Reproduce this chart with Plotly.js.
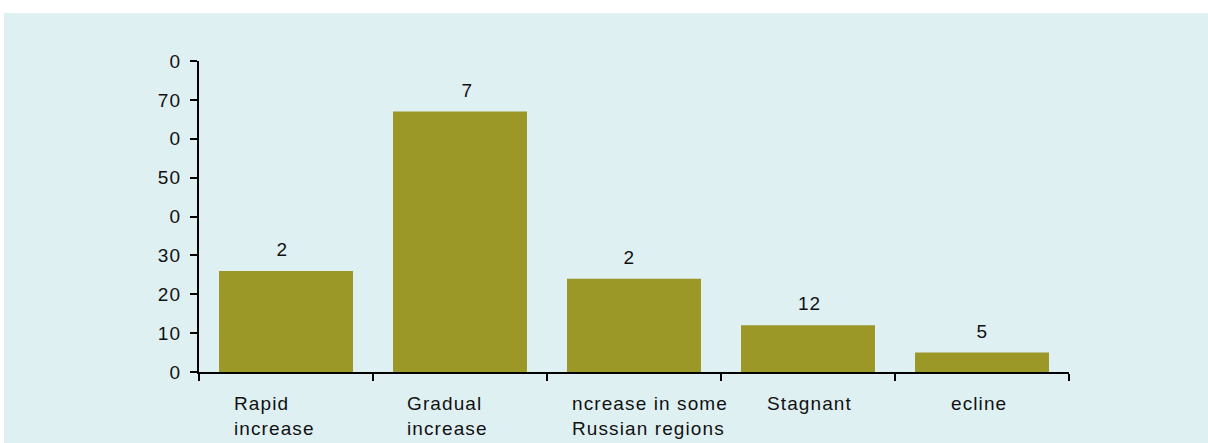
<!DOCTYPE html>
<html>
<head>
<meta charset="utf-8">
<script src="https://cdn.plot.ly/plotly-3.0.1.min.js"></script>
<style>
  html, body { margin: 0; padding: 0; background: #ffffff; }
  #chart { position: absolute; left: 4px; top: 13px; width: 1204px; height: 430px; }
  /* slightly wide set text */
  #chart text { letter-spacing: 1.1px; }
</style>
</head>
<body>
<div id="chart"></div>
<script>
// Outlook categories and the share of answers for each
const categories = [
  "Rapid<br>increase",
  "Gradual<br>increase",
  "ncrease in some<br>Russian regions",
  "Stagnant",
  "ecline"
];
const shares = [26, 67, 24, 12, 5];
const valueLabels = ["2", "7", "2", "12", "5"];

// Y axis ticks
const yTickValues = [0, 10, 20, 30, 40, 50, 60, 70, 80];
const yTickLabels = ["0", "10", "20", "30", "0", "50", "0", "70", "0"];

// Horizontal nudges (px) of the text boxes relative to each bar centre
const categoryLabelNudge = [-16, -17, 7, -3, -6];
const valueLabelNudge = [-4, 7, -5, 1, 0];

const textFont = { family: "Liberation Sans, Arial, sans-serif", size: 19, color: "#111111" };

const trace = {
  type: "bar",
  x: categories,
  y: shares,
  marker: { color: "#9c9828", line: { width: 0 } },
  hoverinfo: "skip"
};

const valueAnnotations = categories.map((c, i) => ({
  x: c,
  y: shares[i],
  xref: "x",
  yref: "y",
  text: valueLabels[i],
  showarrow: false,
  yanchor: "bottom",
  yshift: 9,
  xshift: valueLabelNudge[i],
  font: textFont
}));

const categoryAnnotations = categories.map((c, i) => ({
  x: c,
  y: 0,
  xref: "x",
  yref: "paper",
  text: c,
  showarrow: false,
  yanchor: "top",
  yshift: -19,
  xshift: categoryLabelNudge[i],
  align: "left",
  font: textFont
}));

const layout = {
  width: 1204,
  height: 430,
  margin: { l: 195, r: 139, t: 48, b: 71 },
  paper_bgcolor: "#dff0f3",
  plot_bgcolor: "#dff0f3",
  showlegend: false,
  bargap: 0.23,
  font: textFont,
  xaxis: {
    type: "category",
    tickson: "boundaries",
    ticks: "outside",
    ticklen: 7,
    tickwidth: 2,
    tickcolor: "#000",
    showline: true,
    linecolor: "#000",
    linewidth: 2,
    showgrid: false,
    zeroline: false,
    showticklabels: false,
    fixedrange: true
  },
  yaxis: {
    range: [0, 80],
    tickvals: yTickValues,
    ticktext: yTickLabels,
    ticks: "outside",
    ticklen: 7,
    tickwidth: 2,
    tickcolor: "#000",
    showline: true,
    linecolor: "#000",
    linewidth: 2,
    showgrid: false,
    zeroline: false,
    ticklabelstandoff: 5,
    tickfont: textFont,
    fixedrange: true
  },
  annotations: valueAnnotations.concat(categoryAnnotations)
};

Plotly.newPlot("chart", [trace], layout, { displayModeBar: false, staticPlot: true });
</script>
</body>
</html>
